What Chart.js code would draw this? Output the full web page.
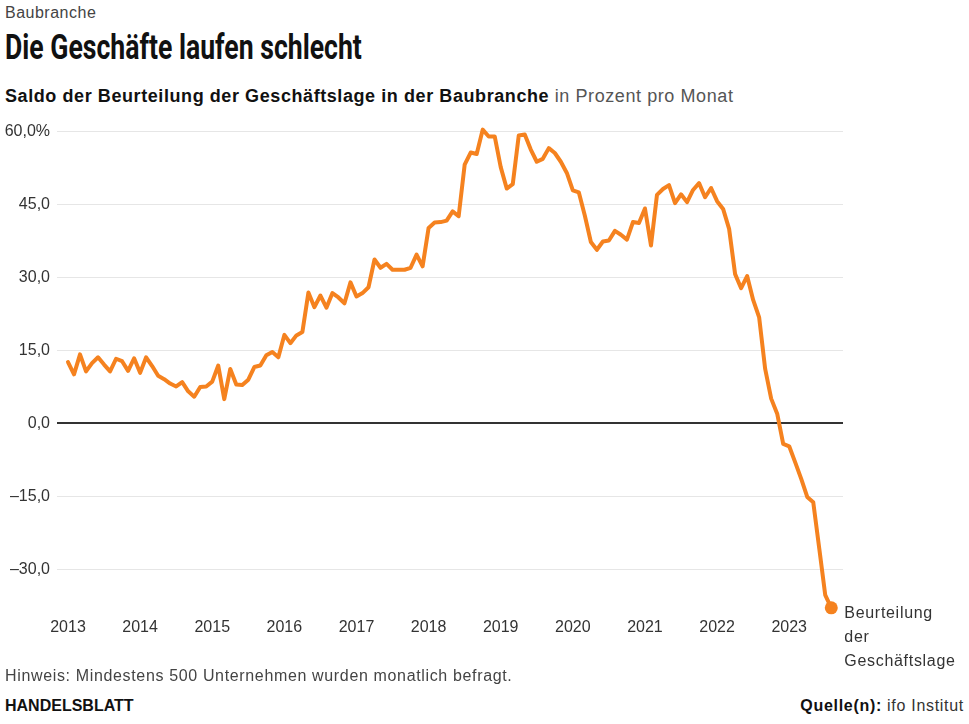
<!DOCTYPE html>
<html lang="de">
<head>
<meta charset="utf-8">
<script src="https://cdn.jsdelivr.net/npm/chart.js@4/dist/chart.umd.min.js"></script>
<style>
  html, body { margin: 0; padding: 0; background: #fff; }
  body { width: 969px; height: 724px; position: relative; overflow: hidden;
         font-family: "Liberation Sans", Arial, sans-serif; color: #222; }
  .txt { position: absolute; white-space: nowrap; line-height: 1; }
  #kicker { left: 5px; top: 5px; font-size: 16px; letter-spacing: 0.5px; color: #444; }
  #title { left: 5px; top: 30px; font-size: 35px; font-weight: bold; color: #111;
           font-family: Roboto, "Liberation Sans", sans-serif;
           transform-origin: 0 0; }
  #subtitle { left: 5px; top: 87px; font-size: 18px; letter-spacing: 0.58px; color: #111; }
  #subtitle b { font-weight: bold; }
  #subtitle span { color: #555; }
  #note { left: 5px; top: 668px; font-size: 16px; letter-spacing: 0.65px; color: #444; }
  #brand { left: 5px; top: 698px; font-size: 16px; font-weight: bold; color: #111; }
  #source { right: 5px; top: 698px; font-size: 16px; letter-spacing: 0.7px; color: #333; }
  #source b { color: #111; }
  #wrap { position: absolute; left: 0; top: 115px; width: 969px; height: 560px; }
</style>
</head>
<body>
<div class="txt" id="kicker">Baubranche</div>
<div class="txt" id="title">Die Geschäfte laufen schlecht</div>
<div class="txt" id="subtitle"><b>Saldo der Beurteilung der Geschäftslage in der Baubranche</b><span> in Prozent pro Monat</span></div>
<div id="wrap"><canvas id="myChart"></canvas></div>
<div class="txt" id="note">Hinweis: Mindestens 500 Unternehmen wurden monatlich befragt.</div>
<div class="txt" id="brand">HANDELSBLATT</div>
<div class="txt" id="source"><b>Quelle(n):</b> ifo Institut</div>

<script>
// Jahreslabels der x-Achse (jeweils Januar)
const yearLabels = ['2013', '2014', '2015', '2016', '2017', '2018', '2019', '2020', '2021', '2022', '2023'];

// Saldo pro Monat, Jan 2013 bis Aug 2023
const saldo = [
  12.6, 10.1, 14.2, 10.7, 12.4, 13.6, 12.1, 10.7, 13.3, 12.8, 10.8, 13.4,
  10.4, 13.6, 11.8, 9.8, 9.1, 8.2, 7.6, 8.5, 6.6, 5.5, 7.5, 7.6,
  8.6, 11.9, 5.0, 11.2, 8.0, 7.9, 9.0, 11.6, 11.9, 14.0, 14.7, 13.6,
  18.2, 16.5, 18.1, 18.8, 26.9, 23.9, 26.3, 23.8, 26.8, 25.9, 24.7, 29.0,
  26.1, 26.8, 28.0, 33.7, 32.0, 32.8, 31.6, 31.6, 31.6, 32.0, 34.7, 32.3,
  40.2, 41.3, 41.4, 41.7, 43.6, 42.6, 53.2, 55.7, 55.4, 60.4, 59.0, 59.0,
  52.7, 48.3, 49.2, 59.2, 59.4, 56.3, 53.8, 54.4, 56.6, 55.6, 53.8, 51.5,
  47.9, 47.5, 42.7, 37.3, 35.7, 37.4, 37.6, 39.6, 38.8, 37.8, 41.4, 41.2,
  44.2, 36.6, 47.0, 48.2, 49.0, 45.3, 47.1, 45.5, 48.0, 49.4, 46.5, 48.4,
  45.7, 44.1, 40.0, 30.7, 27.8, 30.3, 25.4, 21.8, 11.2, 5.1, 2.0, -4.2,
  -4.7, -8.0, -11.4, -15.1, -16.2, -25.7, -35.3, -37.9
];

// y-Achsen-Ticks
const yTicks = [-30, -15, 0, 15, 30, 45, 60];

const seriesLabel = ['Beurteilung', 'der', 'Geschäftslage'];
const orange = '#f5821f';

// Titel schmal ziehen (kein Condensed-Font vorhanden)
const titleEl = document.getElementById('title');
titleEl.style.transform = 'scaleX(' + (357 / titleEl.getBoundingClientRect().width).toFixed(3) + ')';

Chart.defaults.font.family = '"Liberation Sans", Arial, sans-serif';
Chart.defaults.font.size = 16;
Chart.defaults.color = '#333';

const points = saldo.map((v, i) => ({ x: i, y: v }));
const last = points.length - 1;

// Beschriftung am letzten Punkt
const endLabel = {
  id: 'endLabel',
  afterDatasetsDraw(chart) {
    const pt = chart.getDatasetMeta(0).data[last];
    const c = chart.ctx;
    c.save();
    c.font = '16px "Liberation Sans", Arial, sans-serif';
    if ('letterSpacing' in c) c.letterSpacing = '0.7px';
    c.fillStyle = '#333';
    c.textBaseline = 'middle';
    c.textAlign = 'left';
    seriesLabel.forEach((line, i) => {
      c.fillText(line, pt.x + 13, pt.y + 6 + i * 24);
    });
    c.restore();
  }
};

const ctx = document.getElementById('myChart').getContext('2d');
const myChart = new Chart(ctx, {
  type: 'line',
  data: {
    datasets: [{
      label: seriesLabel.join(' '),
      data: points,
      borderColor: orange,
      backgroundColor: orange,
      borderWidth: 4,
      borderJoinStyle: 'round',
      borderCapStyle: 'round',
      tension: 0,
      clip: false,
      pointRadius: (c) => c.dataIndex === last ? 6.5 : 0,
      pointHoverRadius: 0,
      pointBorderWidth: 0
    }]
  },
  options: {
    responsive: true,
    maintainAspectRatio: false,
    animation: false,
    layout: { padding: { left: 0, right: 126, top: 16, bottom: 0 } },
    plugins: {
      legend: { display: false },
      tooltip: { enabled: false }
    },
    scales: {
      x: {
        type: 'linear',
        min: -1.83,
        max: 128.95,
        afterBuildTicks: (axis) => {
          axis.ticks = yearLabels.map((y, i) => ({ value: i * 12 }));
        },
        afterFit: (axis) => { axis.height = 57; },
        ticks: {
          autoSkip: false,
          maxRotation: 0,
          padding: 0,
          color: '#333',
          callback: (value) => yearLabels[Math.round(value / 12)]
        },
        grid: { display: false, drawTicks: false },
        border: { display: false }
      },
      y: {
        min: -40,
        max: 60,
        afterBuildTicks: (axis) => {
          axis.ticks = yTicks.map(v => ({ value: v }));
        },
        afterFit: (axis) => { axis.width = 57; },
        ticks: {
          padding: 7,
          color: '#333',
          callback: (value) => {
            const s = Math.abs(value).toFixed(1).replace('.', ',');
            const txt = (value < 0 ? '–' : '') + s;
            return value === 60 ? txt + '%' : txt;
          }
        },
        grid: {
          drawTicks: false,
          color: (c) => c.tick && c.tick.value === 0 ? '#333' : '#e6e6e6',
          lineWidth: (c) => c.tick && c.tick.value === 0 ? 2 : 1
        },
        border: { display: false }
      }
    }
  },
  plugins: [endLabel]
});
</script>
</body>
</html>
